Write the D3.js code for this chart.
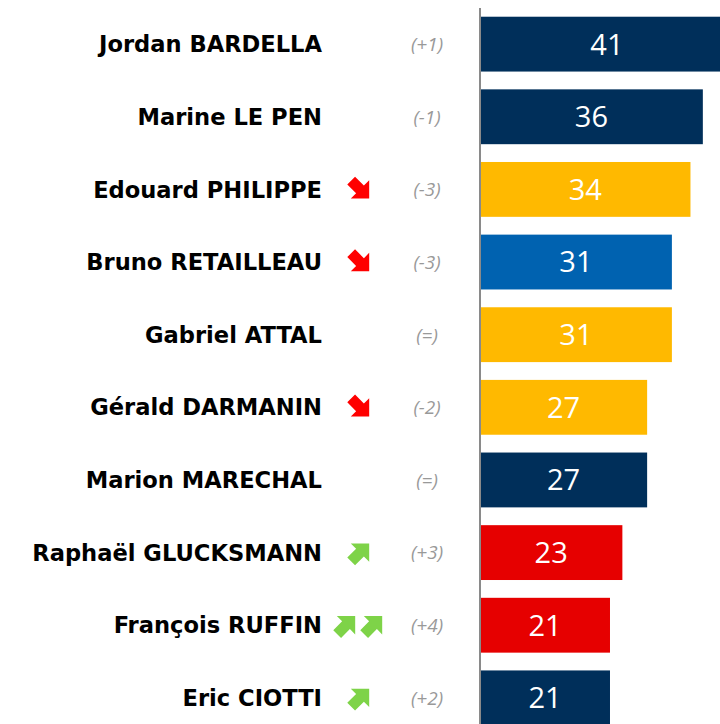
<!DOCTYPE html>
<html>
<head>
<meta charset="utf-8">
<script src="https://cdn.jsdelivr.net/npm/d3@7"></script>
<style>
  body { margin: 0; background: #fff; }
  svg { display: block; }
</style>
</head>
<body>
<div class="center"></div>
<script>
// data
var names = ["Jordan BARDELLA", "Marine LE PEN", "Edouard PHILIPPE", "Bruno RETAILLEAU", "Gabriel ATTAL",
  "Gérald DARMANIN", "Marion MARECHAL", "Raphaël GLUCKSMANN", "François RUFFIN", "Eric CIOTTI"];
var values = [41, 36, 34, 31, 31, 27, 27, 23, 21, 21];
var changes = ["(+1)", "(-1)", "(-3)", "(-3)", "(=)", "(-2)", "(=)", "(+3)", "(+4)", "(+2)"];
// arrows: negative = down arrows, positive = number of up arrows
var trends = [0, 0, -1, -1, 0, -1, 0, 1, 2, 1];
var parties = ["RN", "RN", "EPR", "LR", "EPR", "EPR", "RN", "PS", "LFI", "RN"];

var partyColor = {RN: "#002f5a", EPR: "#ffb900", LR: "#0062b0", PS: "#e60000", LFI: "#e60000"};

var width = 720, height = 724;
var x0 = 480;

var svg = d3.select("div.center").append("svg")
    .attr("width", width)
    .attr("height", height);

// scales
var x = d3.scaleLinear().domain([0, 10]).range([x0, x0 + 61.9]);
var y = d3.scaleBand().domain(names).range([8, 734]).paddingInner(0.245).paddingOuter(0.12);

var rows = names.map(function(n, i) {
  return {name: n, value: values[i], change: changes[i], trend: trends[i], party: parties[i]};
});

// bars
svg.selectAll("rect.bar")
    .data(rows)
    .enter().append("rect")
    .attr("class", "bar")
    .attr("x", x(0))
    .attr("y", function(d) { return y(d.name); })
    .attr("width", function(d) { return x(d.value) - x(0); })
    .attr("height", y.bandwidth())
    .attr("fill", function(d) { return partyColor[d.party]; });

// values
svg.selectAll("text.val")
    .data(rows)
    .enter().append("text")
    .attr("class", "val")
    .attr("x", function(d) { return (x(0) + x(d.value)) / 2; })
    .attr("y", function(d) { return y(d.name) + y.bandwidth() / 2; })
    .attr("dy", "0.36em")
    .attr("text-anchor", "middle")
    .attr("fill", "#fff")
    .style("font-family", "'Open Sans', sans-serif")
    .style("font-size", "29px")
    .text(function(d) { return d.value; });

// axis line
svg.append("line")
    .attr("x1", x0).attr("x2", x0)
    .attr("y1", 8).attr("y2", height)
    .attr("stroke", "#8a8a8a")
    .attr("stroke-width", 2);

// names
svg.selectAll("text.name")
    .data(rows)
    .enter().append("text")
    .attr("class", "name")
    .attr("x", 322)
    .attr("y", function(d) { return y(d.name) + y.bandwidth() / 2; })
    .attr("dy", "0.36em")
    .attr("text-anchor", "end")
    .attr("fill", "#000")
    .style("font-family", "'DejaVu Sans', sans-serif")
    .style("font-weight", "bold")
    .style("font-size", "22.6px")
    .text(function(d) { return d.name; });

// change labels
svg.selectAll("text.chg")
    .data(rows)
    .enter().append("text")
    .attr("class", "chg")
    .attr("x", 427)
    .attr("y", function(d) { return y(d.name) + y.bandwidth() / 2; })
    .attr("dy", "0.36em")
    .attr("text-anchor", "middle")
    .attr("fill", "#999")
    .style("font-family", "'Open Sans', sans-serif")
    .style("font-style", "italic")
    .style("font-size", "19px")
    .text(function(d) { return d.change; });

// arrow shape pointing right, centred on 0,0
var arrowPath = "M-12.5,-5.5 L0,-5.5 L0,-13 L13,0 L0,13 L0,5.5 L-12.5,5.5 Z";

rows.forEach(function(d) {
  if (d.trend === 0) return;
  var n = Math.abs(d.trend);
  var col = d.trend < 0 ? "#ff0000" : "#7ed348";
  var rot = d.trend < 0 ? 45 : -45;
  var cy = y(d.name) + y.bandwidth() / 2;
  for (var k = 0; k < n; k++) {
    var cx = n === 1 ? 360 : 346 + k * 27;
    svg.append("path")
        .attr("d", arrowPath)
        .attr("fill", col)
        .attr("transform", "translate(" + cx + "," + cy + ") rotate(" + rot + ")");
  }
});
</script>
</body>
</html>
